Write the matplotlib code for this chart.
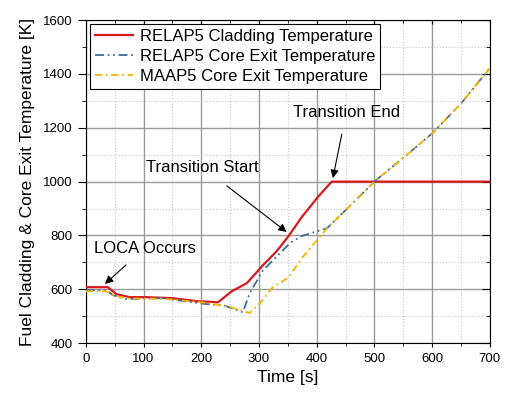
import matplotlib.pyplot as plt
from matplotlib.ticker import MultipleLocator

plt.rcParams['font.family'] = ['Liberation Sans', 'DejaVu Sans']

# RELAP5 cladding temperature
clad_t = [0, 38, 53, 76, 105, 151, 192, 229, 253, 279, 307, 330, 352, 374, 402, 426, 700]
clad_T = [608, 608, 582, 571, 571, 567, 556, 552, 593, 623, 690, 740, 800, 868, 943, 1000, 1000]

# RELAP5 core exit temperature
r5_t = [0, 35, 47, 70, 133, 209, 238, 272, 284, 307, 354, 374, 418, 460, 501, 556, 601, 650, 700]
r5_T = [597, 597, 578, 564, 567, 545, 541, 515, 586, 671, 772, 798, 827, 915, 1002, 1099, 1181, 1290, 1422]

# MAAP5 core exit temperature
m5_t = [0, 35, 50, 75, 133, 209, 250, 284, 302, 324, 350, 376, 418, 460, 501, 556, 601, 650, 700]
m5_T = [593, 593, 575, 566, 565, 550, 534, 512, 549, 608, 642, 720, 827, 915, 1002, 1099, 1181, 1290, 1422]

fig = plt.figure(figsize=(5.05, 3.94), dpi=100)
ax = fig.add_axes([0.170, 0.129, 0.800, 0.820])

ax.plot(clad_t, clad_T, color='#d7191c', lw=1.6, label='RELAP5 Cladding Temperature', zorder=3)
ax.plot(r5_t, r5_T, color='#3b6fa0', lw=1.3, ls=(0, (5, 2, 1, 2, 1, 2)),
        label='RELAP5 Core Exit Temperature', zorder=3)
ax.plot(m5_t, m5_T, color='#f4b400', lw=1.3, ls=(0, (4, 2, 1, 2)),
        label='MAAP5 Core Exit Temperature', zorder=3)

ax.set_xlim(0, 700)
ax.set_ylim(400, 1600)
ax.xaxis.set_major_locator(MultipleLocator(100))
ax.xaxis.set_minor_locator(MultipleLocator(50))
ax.yaxis.set_major_locator(MultipleLocator(200))
ax.yaxis.set_minor_locator(MultipleLocator(100))
ax.grid(which='major', color='#9a9a9a', lw=1.0)
ax.grid(which='minor', color='#c8c8c8', lw=0.8, ls=':')
ax.tick_params(which='both', top=True, right=True, direction='in', labelsize=9.5)
ax.tick_params(axis='x', which='both', bottom=True, direction='out', pad=4)
ax.tick_params(axis='x', which='major', length=3)
ax.tick_params(axis='x', which='minor', length=2)
ax.tick_params(axis='y', which='both', left=True, direction='out', pad=4)
ax.tick_params(axis='y', which='major', length=5.5)
ax.tick_params(axis='y', which='minor', length=3)
# keep top/right ticks pointing inward
for t in ax.xaxis.get_major_ticks() + ax.xaxis.get_minor_ticks():
    t.tick2line.set_marker(3)
for t in ax.yaxis.get_major_ticks() + ax.yaxis.get_minor_ticks():
    t.tick2line.set_marker(0)

ax.set_xlabel('Time [s]', fontsize=12.5, labelpad=4)
ax.set_ylabel('Fuel Cladding & Core Exit Temperature [K]', fontsize=12.5, labelpad=6)

ax.annotate('LOCA Occurs', xy=(33, 620), xytext=(102, 753), fontsize=12,
            ha='center', va='center',
            arrowprops=dict(arrowstyle='-|>', color='black', lw=0.8, shrinkA=7, shrinkB=0))
ax.annotate('Transition Start', xy=(348, 813), xytext=(202, 1054), fontsize=12,
            ha='center', va='center',
            arrowprops=dict(arrowstyle='-|>', color='black', lw=0.8, shrinkA=10, shrinkB=0))
ax.annotate('Transition End', xy=(428, 1013), xytext=(451, 1255), fontsize=12,
            ha='center', va='center',
            arrowprops=dict(arrowstyle='-|>', color='black', lw=0.8, shrinkA=8, shrinkB=0))

leg = ax.legend(loc='upper left', fontsize=12, frameon=True, fancybox=False,
                edgecolor='black', framealpha=1, handlelength=2.3,
                borderaxespad=0.25, labelspacing=0.3, borderpad=0.3, handletextpad=0.4)
leg.get_frame().set_linewidth(0.8)

fig.savefig('out.png', dpi=100)
